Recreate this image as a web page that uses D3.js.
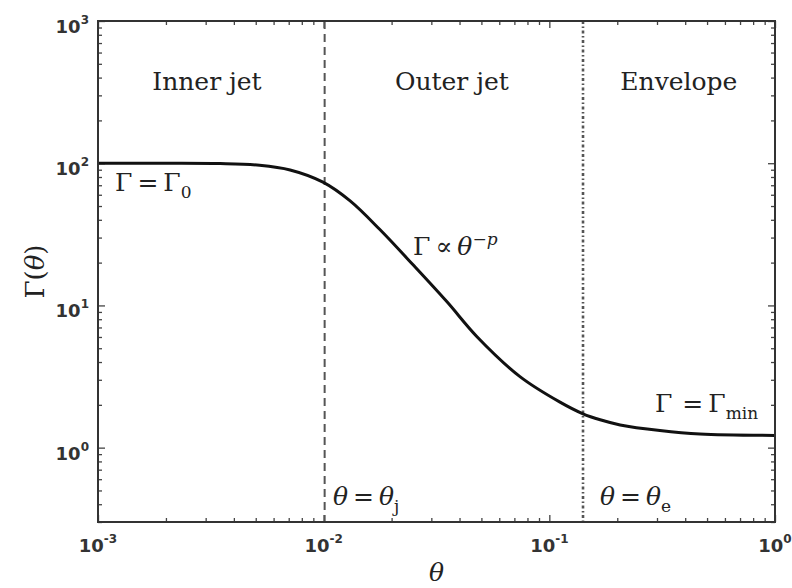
<!DOCTYPE html>
<html>
<head>
<meta charset="utf-8">
<script src="https://cdn.jsdelivr.net/npm/d3@7"></script>
<style>
  body { margin: 0; background: #fff; }
</style>
</head>
<body>
<div id="chart"></div>
<script>
// curve: theta -> Gamma(theta)
const thetaVals = [0.001, 0.002, 0.00348, 0.0052, 0.0071, 0.00993, 0.0131, 0.0177, 0.0249,
                   0.0352, 0.0478, 0.0741, 0.1115, 0.141, 0.168, 0.206, 0.309, 0.465, 1.0];
const gammaVals = [100, 100, 99.5, 96.8, 89.7, 73.6, 54.3, 34.3, 19.3,
                   10.6, 6.03, 3.16, 2.09, 1.73, 1.57, 1.445, 1.32, 1.247, 1.219];

const xTicks = [1e-3, 1e-2, 1e-1, 1e0];
const xTickExp = ["-3", "-2", "-1", "0"];
const yTicks = [1e0, 1e1, 1e2, 1e3];
const yTickExp = ["0", "1", "2", "3"];

const thetaJ = 0.0101;   // dashed boundary
const thetaE = 0.141;    // dash-dot boundary

const regionNames = ["Inner jet", "Outer jet", "Envelope"];
const regionTheta = [0.00304, 0.037, 0.375];
const regionGamma = 325;

const margin = { top: 21, right: 17, bottom: 66, left: 98 },
      width = 792 - margin.left - margin.right,
      height = 588 - margin.top - margin.bottom;

const svg = d3.select("#chart")
  .append("svg")
  .attr("width", width + margin.left + margin.right)
  .attr("height", height + margin.top + margin.bottom)
  .append("g")
  .attr("transform", `translate(${margin.left},${margin.top})`);

const x = d3.scaleLog().domain([1e-3, 1]).range([0, width]);
const y = d3.scaleLog().domain([0.3, 1000]).range([height, 0]);

// minor tick positions
const xMinor = [];
for (let e = -3; e < 0; e++) for (let k = 2; k <= 9; k++) xMinor.push(k * Math.pow(10, e));
const yMinor = [0.3, 0.4, 0.5, 0.6, 0.7, 0.8, 0.9];
for (let e = 0; e < 3; e++) for (let k = 2; k <= 9; k++) yMinor.push(k * Math.pow(10, e));

function tickAxis(axisFn, scale, values, size) {
  return axisFn(scale).tickValues(values).tickSize(-size).tickFormat("");
}

const axes = [
  [d3.axisBottom, x, `translate(0,${height})`, xTicks, xMinor],
  [d3.axisTop, x, "translate(0,0)", xTicks, xMinor],
  [d3.axisLeft, y, "translate(0,0)", yTicks, yMinor],
  [d3.axisRight, y, `translate(${width},0)`, yTicks, yMinor]
];
axes.forEach(([fn, sc, tr, major, minor]) => {
  [[major, 7], [minor, 4]].forEach(([vals, sz]) => {
    const g = svg.append("g")
      .attr("transform", tr)
      .call(tickAxis(fn, sc, vals, sz));
    g.select(".domain").remove();
    g.selectAll("line").attr("stroke", "#444").attr("stroke-width", 1.3);
  });
});

// tick labels 10^n
const tickFont = "DejaVu Sans";
xTicks.forEach((v, i) => {
  const t = svg.append("text")
    .attr("x", x(v))
    .attr("y", height + 30)
    .attr("text-anchor", "middle")
    .attr("font-family", tickFont)
    .attr("font-weight", "bold")
    .attr("font-size", 18)
    .attr("fill", "#333");
  t.append("tspan").text("10");
  t.append("tspan").attr("font-size", 12).attr("dy", -9).text(xTickExp[i]);
});
yTicks.forEach((v, i) => {
  const t = svg.append("text")
    .attr("x", -9)
    .attr("y", y(v) + 12)
    .attr("text-anchor", "end")
    .attr("font-family", tickFont)
    .attr("font-weight", "bold")
    .attr("font-size", 18)
    .attr("fill", "#333");
  t.append("tspan").text("10");
  t.append("tspan").attr("font-size", 12).attr("dy", -9).text(yTickExp[i]);
});

// boundaries
svg.append("line")
  .attr("x1", x(thetaJ)).attr("x2", x(thetaJ))
  .attr("y1", 0).attr("y2", height)
  .attr("stroke", "#555")
  .attr("stroke-width", 2)
  .attr("stroke-dasharray", "8,5");

svg.append("line")
  .attr("x1", x(thetaE)).attr("x2", x(thetaE))
  .attr("y1", 0).attr("y2", height)
  .attr("stroke", "#555")
  .attr("stroke-width", 2.6)
  .attr("stroke-dasharray", "3,2.5,1.5,2.5");

// Gamma(theta) curve
const curveData = thetaVals.map((t, i) => ({ theta: t, gamma: gammaVals[i] }));
const line = d3.line()
  .x(d => x(d.theta))
  .y(d => y(d.gamma))
  .curve(d3.curveCatmullRom.alpha(0.5));

svg.append("path")
  .datum(curveData)
  .attr("fill", "none")
  .attr("stroke", "#111")
  .attr("stroke-width", 3)
  .attr("d", line);

// frame
svg.append("rect")
  .attr("width", width)
  .attr("height", height)
  .attr("fill", "none")
  .attr("stroke", "#333")
  .attr("stroke-width", 2);

// text
const serif = "DejaVu Serif";

regionNames.forEach((name, i) => {
  svg.append("text")
    .attr("x", x(regionTheta[i]))
    .attr("y", y(regionGamma))
    .attr("text-anchor", "middle")
    .attr("font-family", serif)
    .attr("font-size", 25)
    .attr("fill", "#222")
    .text(name);
});

function mathLabel(px, py, parts, size) {
  const t = svg.append("text")
    .attr("x", px)
    .attr("y", py)
    .attr("font-family", serif)
    .attr("font-size", size)
    .attr("fill", "#222");
  parts.forEach(p => {
    const s = t.append("tspan").text(p.t);
    if (p.i) s.attr("font-style", "italic");
    if (p.sub) s.attr("font-size", size * 0.68).attr("dy", size * 0.28);
    if (p.sup) s.attr("font-size", size * 0.68).attr("dy", -size * 0.42);
  });
  return t;
}

mathLabel(x(0.00119), y(64), [{ t: "Γ\u2009=\u2009Γ" }, { t: "0", sub: true }], 25);
mathLabel(x(0.0249), y(22.6), [{ t: "Γ\u2009∝\u2009" }, { t: "θ", i: true }, { t: "−", sup: true }, { t: "p", i: true }], 25)
  .selectAll("tspan").filter((d, i) => i === 3).attr("dy", null).attr("font-size", 25 * 0.68);
mathLabel(x(0.294), y(1.79), [{ t: "Γ\u2009\u2009=\u2009Γ" }, { t: "min", sub: true }], 25);
mathLabel(x(0.011), y(0.398), [{ t: "θ", i: true }, { t: "\u2009=\u2009" }, { t: "θ", i: true }, { t: "j", sub: true }], 25);
mathLabel(x(0.1675), y(0.398), [{ t: "θ", i: true }, { t: "\u2009=\u2009" }, { t: "θ", i: true }, { t: "e", sub: true }], 25);

// axis labels
const yl = svg.append("text")
  .attr("transform", `translate(${-54},${height / 2}) rotate(-90)`)
  .attr("text-anchor", "middle")
  .attr("font-family", serif)
  .attr("font-size", 26)
  .attr("fill", "#222");
yl.append("tspan").text("Γ(");
yl.append("tspan").attr("font-style", "italic").text("θ");
yl.append("tspan").text(")");

svg.append("text")
  .attr("x", width / 2)
  .attr("y", height + 59)
  .attr("text-anchor", "middle")
  .attr("font-family", serif)
  .attr("font-style", "italic")
  .attr("font-size", 25)
  .attr("fill", "#222")
  .text("θ");
</script>
</body>
</html>
